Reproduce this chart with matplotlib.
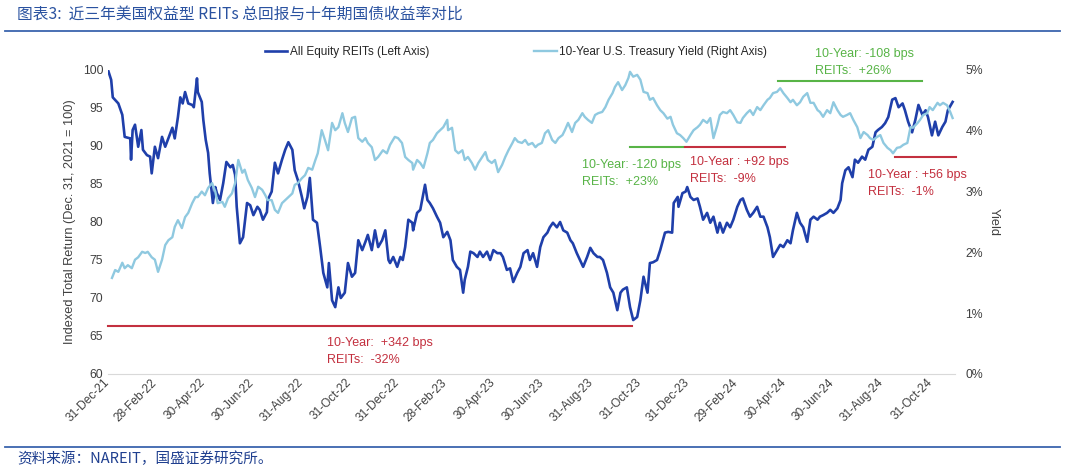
import numpy as np
import pandas as pd
import matplotlib
matplotlib.use('Agg')
import matplotlib.pyplot as plt
from matplotlib.lines import Line2D
from matplotlib.ticker import FuncFormatter

plt.rcParams['font.family'] = ['Liberation Sans', 'Noto Sans CJK SC', 'DejaVu Sans']

# ---------------- data ----------------
BASE_DATE = '2021-12-31'

# All Equity REITs total return index (Dec 31, 2021 = 100); days after base date
reit_days = [
    0, 4, 6, 13, 18, 21, 28, 29, 31, 34,
    38, 42, 44, 49, 53, 55, 59, 63, 68, 72,
    76, 81, 84, 88, 91, 94, 97, 101, 106, 108,
    112, 113, 118, 120, 123, 126, 128, 132, 135, 137,
    141, 145, 149, 154, 157, 160, 162, 166, 170, 175,
    179, 183, 188, 191, 195, 200, 201, 206, 210, 214,
    219, 223, 227, 232, 235, 239, 244, 247, 251, 254,
    258, 263, 267, 271, 276, 278, 282, 286, 290, 293,
    298, 302, 307, 311, 315, 320, 324, 327, 332, 336,
    340, 345, 349, 353, 355, 359, 364, 368, 371, 374,
    378, 383, 384, 389, 393, 397, 399, 402, 405, 409,
    414, 418, 422, 427, 431, 434, 439, 443, 447, 449,
    453, 456, 460, 465, 468, 472, 477, 481, 485, 490,
    494, 497, 502, 506, 510, 515, 519, 523, 528, 531,
    535, 540, 544, 548, 553, 556, 560, 565, 569, 573,
    578, 582, 585, 590, 594, 598, 603, 607, 611, 616,
    619, 623, 628, 632, 636, 641, 645, 648, 653, 657,
    661, 666, 670, 674, 679, 682, 686, 691, 695, 701,
    705, 710, 712, 717, 718, 723, 727, 729, 733, 737,
    742, 745, 749, 754, 758, 762, 767, 770, 774, 779,
    783, 787, 792, 796, 799, 804, 808, 812, 817, 821,
    825, 830, 833, 837, 842, 846, 850, 855, 859, 862,
    867, 871, 875, 880, 884, 888, 893, 896, 900, 905,
    909, 913, 918, 922, 924, 928, 932, 937, 940, 944,
    949, 953, 957, 962, 966, 969, 974, 978, 982, 987,
    991, 995, 1000, 1003, 1007, 1012, 1016, 1020, 1025, 1029,
    1032, 1037, 1041, 1045, 1050, 1054, 1057, 1063,
]
reit_vals = [
    100.0, 98.7, 96.4, 95.6, 94.1, 91.2, 91.0, 88.2, 92.1, 92.8,
    89.9, 92.1, 89.5, 88.8, 88.6, 86.4, 89.9, 88.4, 91.2, 89.9,
    91.0, 92.4, 91.0, 93.8, 96.4, 95.6, 97.1, 95.6, 95.4, 95.1,
    98.9, 97.1, 95.8, 93.4, 90.8, 89.1, 86.4, 82.5, 84.6, 83.8,
    82.9, 85.1, 87.9, 87.2, 87.5, 86.2, 82.0, 77.2, 78.0, 82.5,
    82.2, 80.9, 82.0, 81.6, 80.3, 81.3, 82.9, 84.0, 87.8, 86.4,
    88.2, 89.5, 90.5, 89.5, 86.8, 85.5, 83.3, 81.8, 83.3, 85.8,
    80.3, 79.9, 76.7, 73.3, 71.4, 74.6, 69.7, 68.8, 71.4, 70.0,
    70.7, 74.6, 72.8, 73.3, 77.6, 76.3, 77.4, 78.3, 76.3, 78.9,
    76.7, 77.6, 78.9, 75.0, 74.6, 75.4, 74.1, 75.4, 75.0, 76.7,
    80.3, 79.9, 78.9, 81.2, 81.6, 83.8, 84.9, 82.9, 82.5, 81.8,
    80.7, 79.9, 78.0, 78.7, 77.6, 75.0, 74.1, 73.7, 70.7, 72.4,
    74.1, 76.1, 75.9, 75.4, 76.1, 75.4, 76.1, 75.0, 76.3, 75.9,
    75.9, 75.4, 73.7, 73.9, 72.1, 73.3, 74.1, 75.9, 76.3, 75.0,
    75.9, 74.1, 76.7, 78.0, 78.6, 79.3, 79.9, 79.3, 80.0, 78.9,
    78.6, 77.6, 77.2, 75.9, 75.0, 74.1, 75.4, 76.6, 75.9, 75.4,
    75.4, 75.0, 73.3, 71.4, 70.7, 68.4, 70.7, 71.1, 71.4, 68.8,
    67.1, 67.5, 69.7, 72.8, 70.7, 74.6, 74.7, 75.0, 76.3, 78.6,
    78.7, 78.6, 82.5, 83.3, 82.0, 83.8, 84.0, 84.6, 83.3, 82.9,
    83.1, 82.0, 80.3, 81.2, 79.9, 80.7, 78.6, 79.9, 78.6, 79.9,
    79.3, 80.3, 82.0, 82.9, 83.1, 81.6, 80.7, 81.2, 82.0, 80.7,
    80.7, 79.3, 78.0, 75.4, 76.3, 77.0, 76.7, 77.6, 77.2, 78.9,
    81.2, 79.9, 79.3, 77.4, 80.3, 80.7, 80.3, 80.7, 80.9, 81.2,
    81.6, 81.2, 81.8, 82.9, 85.1, 86.8, 87.2, 85.9, 88.2, 87.8,
    88.6, 88.2, 89.5, 89.9, 91.8, 92.1, 92.5, 93.0, 93.8, 96.1,
    96.3, 95.1, 95.6, 94.7, 93.2, 91.8, 93.4, 95.4, 94.1, 94.7,
    93.8, 91.4, 93.2, 91.4, 92.5, 93.2, 94.7, 95.8,
]

# 10-Year U.S. Treasury yield (%); days after base date
yld_days = [
    5, 9, 13, 18, 21, 25, 30, 34, 38, 43,
    47, 50, 55, 59, 63, 68, 72, 76, 81, 84,
    88, 93, 97, 101, 106, 110, 113, 118, 122, 126,
    131, 135, 138, 144, 147, 151, 156, 160, 164, 169,
    172, 176, 181, 185, 189, 194, 198, 201, 206, 210,
    214, 219, 223, 227, 232, 235, 239, 244, 248, 252,
    257, 261, 264, 269, 273, 277, 282, 286, 290, 295,
    298, 302, 307, 311, 315, 320, 324, 327, 332, 336,
    340,
    346, 351, 355, 361, 365, 370, 374, 378, 383, 384,
    389, 393, 397, 402, 405, 409, 414, 418, 422, 427,
    428, 433, 437, 441, 446, 449, 453, 458, 462, 466,
    471, 475, 478, 483, 487, 491, 496, 500, 504, 509,
    512, 516, 521, 525, 529, 534, 538, 541, 546, 550,
    554, 559, 563, 567, 572, 575, 579, 584, 588, 592,
    597, 600, 604, 609, 613, 617, 622, 626, 630, 635,
    638, 642, 647, 651, 655, 657, 661, 666, 670, 674,
    679, 682, 686, 691,
    695, 699, 704, 708, 711, 716, 720, 724, 728, 733,
    737, 742, 745, 749, 754, 758, 762, 767, 770, 774,
    779, 783, 787, 792, 796, 799, 804, 808, 812, 817,
    821, 825, 830, 833, 837, 842, 846, 850, 855, 859,
    862, 867, 871, 875, 880, 884, 888, 893, 896, 900,
    905, 909, 913, 918, 922, 925, 930, 934, 938, 943,
    947, 951, 956, 959, 963, 968, 972, 976, 981, 985,
    988, 993, 997, 1001, 1006, 1010, 1013, 1019, 1022, 1026,
    1031, 1034, 1038, 1044, 1047, 1051, 1056, 1060, 1063,
]
yld_vals = [
    1.58, 1.71, 1.68, 1.83, 1.74, 1.79, 1.74, 1.88, 1.92, 2.01,
    1.99, 2.01, 1.92, 1.88, 1.68, 1.88, 2.12, 2.20, 2.25, 2.42,
    2.53, 2.40, 2.58, 2.65, 2.81, 2.91, 2.91, 3.00, 2.94, 3.06,
    3.14, 3.00, 2.81, 2.83, 2.75, 2.89, 2.97, 3.14, 3.52, 3.31,
    3.36, 3.19, 3.06, 2.91, 3.08, 3.03, 2.94, 2.86, 2.86, 2.70,
    2.65, 2.81, 2.86, 2.91, 2.97, 3.11, 3.14, 3.22, 3.27, 3.39,
    3.36, 3.52, 3.63, 4.01, 3.85, 3.68, 4.13, 4.01, 4.06, 4.29,
    4.13, 3.98, 4.21, 4.23, 3.88, 3.82, 3.88, 3.80, 3.73, 3.52,
    3.57,
    3.68, 3.63, 3.77, 3.90, 3.88, 3.80, 3.57, 3.52, 3.47, 3.36,
    3.52, 3.47, 3.39, 3.63, 3.80, 3.85, 3.96, 4.01, 4.06, 4.18,
    4.01, 4.05, 3.68, 3.63, 3.68, 3.52, 3.57, 3.47, 3.36, 3.47,
    3.57, 3.65, 3.52, 3.47, 3.52, 3.32, 3.44, 3.57, 3.68, 3.80,
    3.88, 3.82, 3.80, 3.85, 3.77, 3.80, 3.73, 3.77, 3.80, 3.96,
    4.01, 3.85, 3.80, 3.88, 3.93, 4.01, 4.13, 3.98, 4.13, 4.18,
    4.29, 4.23, 4.18, 4.13, 4.26, 4.29, 4.31, 4.39, 4.51, 4.62,
    4.72, 4.80, 4.67, 4.75, 4.87, 4.97, 4.89, 4.92, 4.84, 4.64,
    4.62, 4.51, 4.54, 4.42,
    4.34, 4.29, 4.20, 4.23, 4.10, 3.96, 3.93, 3.88, 3.82, 3.93,
    4.01, 4.06, 4.10, 4.18, 4.13, 4.21, 3.88, 4.10, 4.26, 4.31,
    4.29, 4.34, 4.26, 4.14, 4.13, 4.21, 4.29, 4.34, 4.26, 4.39,
    4.34, 4.42, 4.51, 4.54, 4.62, 4.64, 4.70, 4.62, 4.54, 4.47,
    4.51, 4.42, 4.47, 4.56, 4.62, 4.46, 4.46, 4.34, 4.31, 4.23,
    4.34, 4.29, 4.47, 4.34, 4.26, 4.23, 4.26, 4.29, 4.18, 4.06,
    3.88, 3.98, 3.93, 3.88, 3.85, 3.90, 3.93, 3.80, 3.72, 3.68,
    3.63, 3.72, 3.73, 3.77, 3.80, 4.06, 4.05, 4.13, 4.18, 4.26,
    4.29, 4.39, 4.34, 4.46, 4.42, 4.46, 4.42, 4.31, 4.21,
]

tick_dates = ['2021-12-31', '2022-02-28', '2022-04-30', '2022-06-30', '2022-08-31',
              '2022-10-31', '2022-12-31', '2023-02-28', '2023-04-30', '2023-06-30',
              '2023-08-31', '2023-10-31', '2023-12-31', '2024-02-29', '2024-04-30',
              '2024-06-30', '2024-08-31', '2024-10-31']
tick_labels = ['31-Dec-21', '28-Feb-22', '30-Apr-22', '30-Jun-22', '31-Aug-22',
               '31-Oct-22', '31-Dec-22', '28-Feb-23', '30-Apr-23', '30-Jun-23',
               '31-Aug-23', '31-Oct-23', '31-Dec-23', '29-Feb-24', '30-Apr-24',
               '30-Jun-24', '31-Aug-24', '31-Oct-24']

# period annotations: start/end date, level on left axis, colour kind, texts
ann_start = ['2021-12-31', '2023-10-19', '2023-12-27', '2024-04-22', '2024-09-16']
ann_end = ['2023-10-21', '2023-12-25', '2024-05-01', '2024-10-20', '2024-12-02']
ann_level = [66.3, 89.9, 89.9, 98.55, 88.55]
ann_kind = ['down', 'up', 'down', 'up', 'down']
ann_line1 = ['10-Year:  +342 bps', '10-Year: -120 bps', '10-Year : +92 bps',
             '10-Year: -108 bps', '10-Year : +56 bps']
ann_line2 = ['REITs:  -32%', 'REITs:  +23%', 'REITs:  -9%', 'REITs:  +26%', 'REITs:  -1%']
ann_text_date = ['2022-10-03', '2023-08-20', '2024-01-03', '2024-06-08', '2024-08-14']
ann_text_level = [64.1, 87.5, 87.9, 102.1, 86.2]

# ---------------- figure ----------------
base = pd.Timestamp(BASE_DATE)
reit_x = base + pd.to_timedelta(reit_days, unit='D')
yld_x = base + pd.to_timedelta(yld_days, unit='D')

W, H = 1065, 472
fig = plt.figure(figsize=(W / 100, H / 100), dpi=100)
ax = fig.add_axes([108 / W, 1 - 374 / H, (955 - 108) / W, (374 - 70) / H])
ax2 = ax.twinx()

REIT_C = '#1F3FAA'
YLD_C = '#8FC9E0'
RED = '#C3303F'
GREEN = '#58B447'
TXT = '#404040'

l1, = ax.plot(reit_x, reit_vals, color=REIT_C, lw=1.9, solid_joinstyle='round')
l2, = ax2.plot(yld_x, yld_vals, color=YLD_C, lw=1.7, solid_joinstyle='round')

ax.set_xlim(base, base + pd.Timedelta(days=1066))
ax.set_ylim(60, 100)
ax2.set_ylim(0, 5)
ax.set_yticks(np.arange(60, 101, 5))
ax2.set_yticks(np.arange(0, 6, 1))
ax2.yaxis.set_major_formatter(FuncFormatter(lambda v, p: f'{v:.0f}%'))

ax.set_xticks(pd.to_datetime(tick_dates))
ax.set_xticklabels(tick_labels, rotation=45, ha='right', va='center', rotation_mode='anchor')

for s in ['top', 'left', 'right']:
    ax.spines[s].set_visible(False)
ax.spines['bottom'].set_color('#D9D9D9')
ax.spines['bottom'].set_linewidth(0.8)
for s in ax2.spines.values():
    s.set_visible(False)

ax.tick_params(axis='y', length=0, pad=3.5, labelsize=8.8, labelcolor=TXT)
ax.tick_params(axis='x', length=0, pad=5, labelsize=8.6, labelcolor=TXT)
ax2.tick_params(axis='y', length=0, pad=7.5, labelsize=8.8, labelcolor=TXT)

ax.set_ylabel('Indexed Total Return (Dec. 31, 2021 = 100)', fontsize=9.2, color=TXT, labelpad=5)
ax2.set_ylabel('Yield', fontsize=9.2, color=TXT, rotation=270, va='bottom', labelpad=3)

# annotations
for s, e, lv, k, t1, t2, td, tl in zip(ann_start, ann_end, ann_level, ann_kind,
                                         ann_line1, ann_line2, ann_text_date, ann_text_level):
    c = RED if k == 'down' else GREEN
    ax.plot([pd.Timestamp(s), pd.Timestamp(e)], [lv, lv], color=c, lw=1.5, clip_on=False, zorder=5)
    ax.text(pd.Timestamp(td), tl, t1, color=c, fontsize=9, ha='left', va='center', clip_on=False)
    ax.text(pd.Timestamp(td), tl - 2.2, t2, color=c, fontsize=9, ha='left', va='center', clip_on=False)

# legend
fig.legend(handles=[l1, l2],
           labels=['All Equity REITs (Left Axis)', '10-Year U.S. Treasury Yield (Right Axis)'],
           loc='center left', bbox_to_anchor=(265 / W, 1 - 52 / H), ncol=2, frameon=False,
           fontsize=8.5, handlelength=1.9, handletextpad=0.2, columnspacing=8.9,
           borderpad=0, borderaxespad=0, labelcolor='#262626')

# title, footer and rules
BLUE = '#2A52A0'
fig.text(17 / W, 1 - 14 / H, '图表3:  近三年美国权益型 REITs 总回报与十年期国债收益率对比',
         fontsize=11.3, color=BLUE, ha='left', va='center',
         family=['Noto Sans CJK SC', 'DejaVu Sans'])
fig.add_artist(Line2D([5 / W, 1060 / W], [1 - 31 / H, 1 - 31 / H], color='#3A64AE', lw=1.3))
fig.add_artist(Line2D([5 / W, 1060 / W], [1 - 447 / H, 1 - 447 / H], color='#3A64AE', lw=1.3))
fig.text(17 / W, 1 - 459 / H, '资料来源：NAREIT，国盛证券研究所。',
         fontsize=10.5, color='#1F3F8F', ha='left', va='center',
         family=['Noto Sans CJK SC', 'DejaVu Sans'])

fig.savefig('out.png', dpi=100)
